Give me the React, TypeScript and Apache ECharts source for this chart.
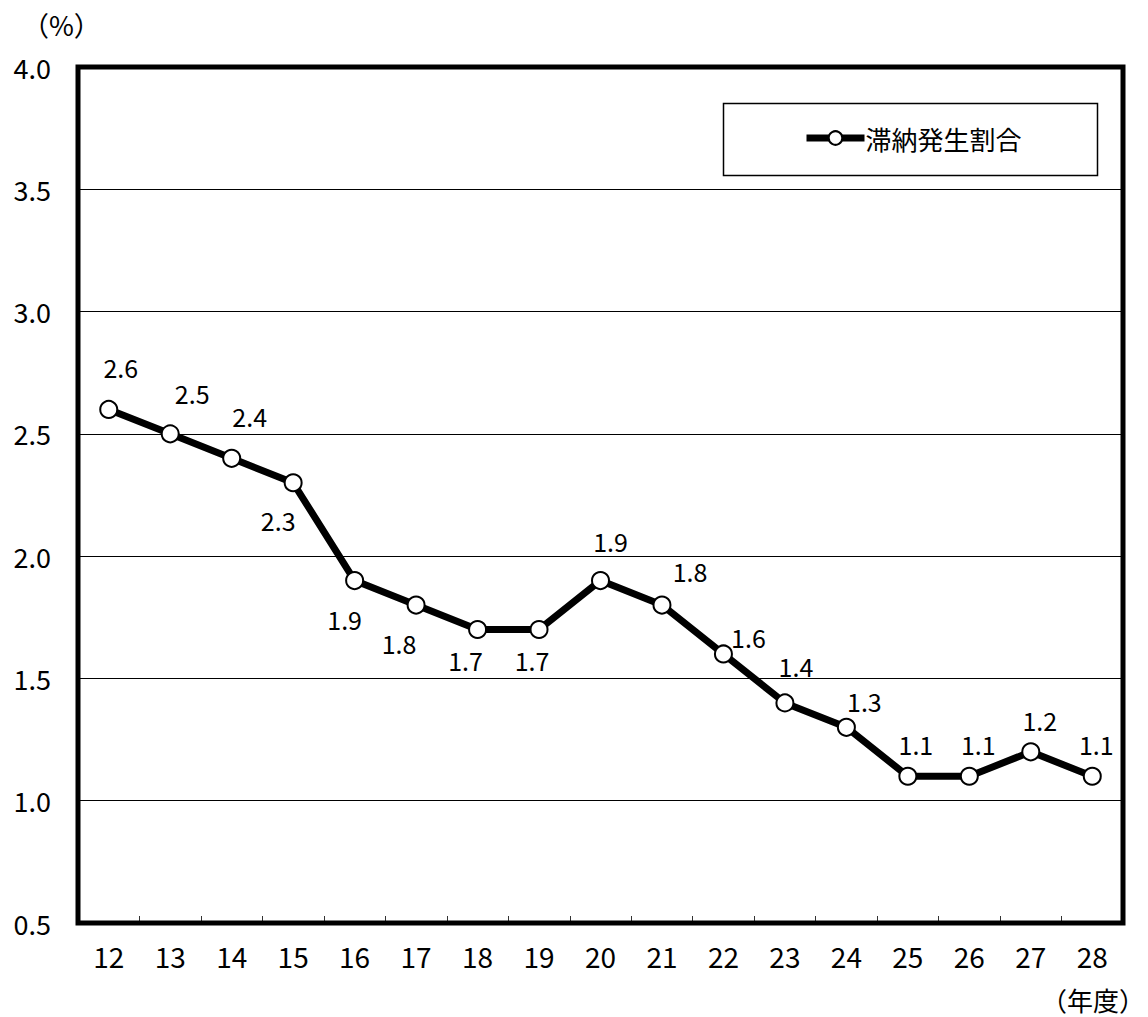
import React, { useEffect, useRef } from "react";
import * as echarts from "echarts";

const categories = ["12", "13", "14", "15", "16", "17", "18", "19", "20", "21", "22", "23", "24", "25", "26", "27", "28"];
const values = [2.6, 2.5, 2.4, 2.3, 1.9, 1.8, 1.7, 1.7, 1.9, 1.8, 1.6, 1.4, 1.3, 1.1, 1.1, 1.2, 1.1];
const labelOffsets: [number, number][] = [
  [12, -42], [22, -41], [18, -42], [-15, 37], [-10, 38], [-17, 38], [-12, 30], [-7, 30],
  [10, -40], [28, -34], [25, -17], [11, -37], [18, -26], [8, -32], [9, -32], [9, -32], [4, -32],
];
const seriesName = "滞納発生割合";
const yUnit = "（%）";
const xUnit = "（年度）";
const FONT = "'Noto Sans CJK JP', sans-serif";

export default function App() {
  const ref = useRef<HTMLDivElement>(null);
  useEffect(() => {
    if (!ref.current) return;
    const chart = echarts.init(ref.current, undefined, { renderer: "svg" });
    chart.setOption({
      animation: false,
      backgroundColor: "#fff",
      textStyle: { fontFamily: FONT, color: "#000" },
      grid: { left: 78, right: 25, top: 67, bottom: 94, show: true, borderColor: "#000", borderWidth: 5, backgroundColor: "transparent", z: 3 },
      xAxis: {
        type: "category",
        data: categories,
        boundaryGap: true,
        axisLine: { show: false },
        axisTick: { show: true, inside: true, length: 7, lineStyle: { color: "#333", width: 1 } },
        axisLabel: { color: "#000", fontSize: 28, fontFamily: FONT, margin: 19 },
      },
      yAxis: {
        type: "value",
        min: 0.5,
        max: 4.0,
        interval: 0.5,
        axisLine: { show: false },
        axisTick: { show: false },
        splitLine: { show: true, lineStyle: { color: "#000", width: 1 } },
        axisLabel: { color: "#000", fontSize: 27, fontFamily: FONT, margin: 27, formatter: (v: number) => v.toFixed(1) },
      },
      legend: {
        data: [{ name: seriesName }],
        left: 803,
        top: 125,
        itemWidth: 58,
        itemHeight: 17,
        itemGap: 0,
        padding: 0,
        lineStyle: { width: 7, color: "#000" },
        textStyle: { fontSize: 26, fontFamily: FONT, color: "#000", padding: [0, 0, 0, -4] },
      },
      graphic: [
        { type: "rect", shape: { x: 723.5, y: 103.5, width: 374, height: 72 }, style: { fill: "#fff", stroke: "#000", lineWidth: 1.5 }, z: 0 },
        { type: "text", left: 22, top: 11, style: { text: yUnit, fontSize: 27, fontFamily: FONT, fill: "#000" } },
        { type: "text", right: 3, top: 986, style: { text: xUnit, fontSize: 26, fontFamily: FONT, fill: "#000" } },
      ],
      series: [
        {
          name: seriesName,
          type: "line",
          data: values.map((v, i) => ({
            value: v,
            label: { offset: labelOffsets[i] },
          })),
          symbol: "circle",
          symbolSize: 17,
          lineStyle: { color: "#000", width: 7 },
          itemStyle: { color: "#fff", borderColor: "#000", borderWidth: 2 },
          z: 5,
          label: {
            show: true,
            position: "inside",
            fontSize: 25,
            fontFamily: FONT,
            color: "#000",
            formatter: (p: any) => Number(p.value).toFixed(1),
          },
        },
      ],
    });
    return () => chart.dispose();
  }, []);
  return <div ref={ref} style={{ position: "fixed", left: 0, top: 0, width: 1148, height: 1017 }} />;
}
